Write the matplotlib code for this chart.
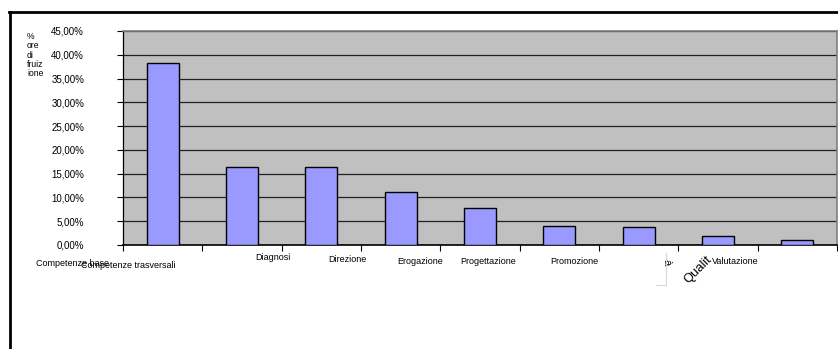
import matplotlib
matplotlib.use("Agg")
import matplotlib.pyplot as plt
from matplotlib.lines import Line2D

plt.rcParams['font.family'] = ['Liberation Sans', 'DejaVu Sans']

categories = ["Competenze base", "Competenze trasversali", "Diagnosi", "Direzione",
              "Erogazione", "Progettazione", "Promozione", "Qualità", "Valutazione"]
values = [38.2, 16.3, 16.3, 11.1, 7.8, 4.0, 3.7, 1.9, 1.0]
yticks = [0, 5, 10, 15, 20, 25, 30, 35, 40, 45]
ytick_labels = ["0,00%", "5,00%", "10,00%", "15,00%", "20,00%", "25,00%",
                "30,00%", "35,00%", "40,00%", "45,00%"]
ylabel = "%\nore\ndi\nfruiz\nione"

# label pixel offsets (dx, dy) from each category's bar centre at the axis line
label_offsets = [(-90, -18), (-114, -21), (-48, -13), (-53, -14), (-60, -17),
                 (-71, -17), (-64, -16), None, (-62, -16)]

W, H = 838, 349
fig = plt.figure(figsize=(W / 100, H / 100), dpi=100)
fig.patch.set_facecolor("white")

L, R, T, B = 123, 837, 31, 245
ax = fig.add_axes([L / W, 1 - B / H, (R - L) / W, (B - T) / H])
ax.set_facecolor("#C0C0C0")

x = list(range(len(categories)))
ax.bar(x, values, width=0.4, color="#9999FF", edgecolor="black", linewidth=1.0, zorder=3)

ax.set_xlim(-0.5, len(categories) - 0.5)
ax.set_ylim(0, 45)
ax.set_yticks(yticks)
ax.set_yticklabels(ytick_labels, fontsize=7)
ax.yaxis.grid(True, color="#202020", linewidth=0.9, zorder=1)
ax.set_axisbelow(True)
ax.tick_params(axis="y", direction="out", length=4, width=0.8, pad=24, color="black")
ax.set_xticks([i - 0.5 for i in range(len(categories) + 1)])
ax.set_xticklabels([])
ax.tick_params(axis="x", direction="out", length=4, width=0.8, color="black")

for side in ["top", "right"]:
    ax.spines[side].set_color("#808080")
    ax.spines[side].set_linewidth(1.2)
ax.spines["left"].set_color("black")
ax.spines["left"].set_linewidth(0.9)
ax.spines["bottom"].set_color("black")
ax.spines["bottom"].set_linewidth(1.2)

for i, (cat, off) in enumerate(zip(categories, label_offsets)):
    if off is None:
        continue
    ax.annotate(cat, xy=(i, 0), xycoords=("data", "axes fraction"),
                xytext=(off[0] * 0.72, off[1] * 0.72), textcoords="offset points",
                ha="center", va="center", fontsize=6.5, annotation_clip=False)

# Qualità label, clipped/wrapped as in the source
qi = categories.index("Qualità")
ax.annotate(categories[qi][:-1], xy=(qi, 0), xycoords=("data", "axes fraction"),
            xytext=((698 - 718) * 0.72, (245 - 270) * 0.72), textcoords="offset points",
            ha="center", va="center", rotation=45, fontsize=9.3, annotation_clip=False)
ax.annotate(categories[qi][-1], xy=(qi, 0), xycoords=("data", "axes fraction"),
            xytext=((667 - 718) * 0.72, (245 - 262) * 0.72), textcoords="offset points",
            ha="center", va="center", rotation=-90, fontsize=8, annotation_clip=False)
fig.add_artist(Line2D([666 / W, 666 / W], [1 - 253 / H, 1 - 285 / H],
                      color="#D8D8D8", linewidth=0.8))
fig.add_artist(Line2D([656 / W, 666 / W], [1 - 285 / H, 1 - 285 / H],
                      color="#D8D8D8", linewidth=0.8))

# y axis title
fig.text(27 / W, 1 - 32 / H, ylabel, ha="left", va="top", fontsize=6.2, linespacing=1.05)

# outer chart-area border (top and left only visible)
fig.add_artist(Line2D([9 / W, 1.0], [1 - 12 / H, 1 - 12 / H], color="black", linewidth=2))
fig.add_artist(Line2D([9.5 / W, 9.5 / W], [1 - 12 / H, 0], color="black", linewidth=2))

fig.savefig("out.png", dpi=100)
